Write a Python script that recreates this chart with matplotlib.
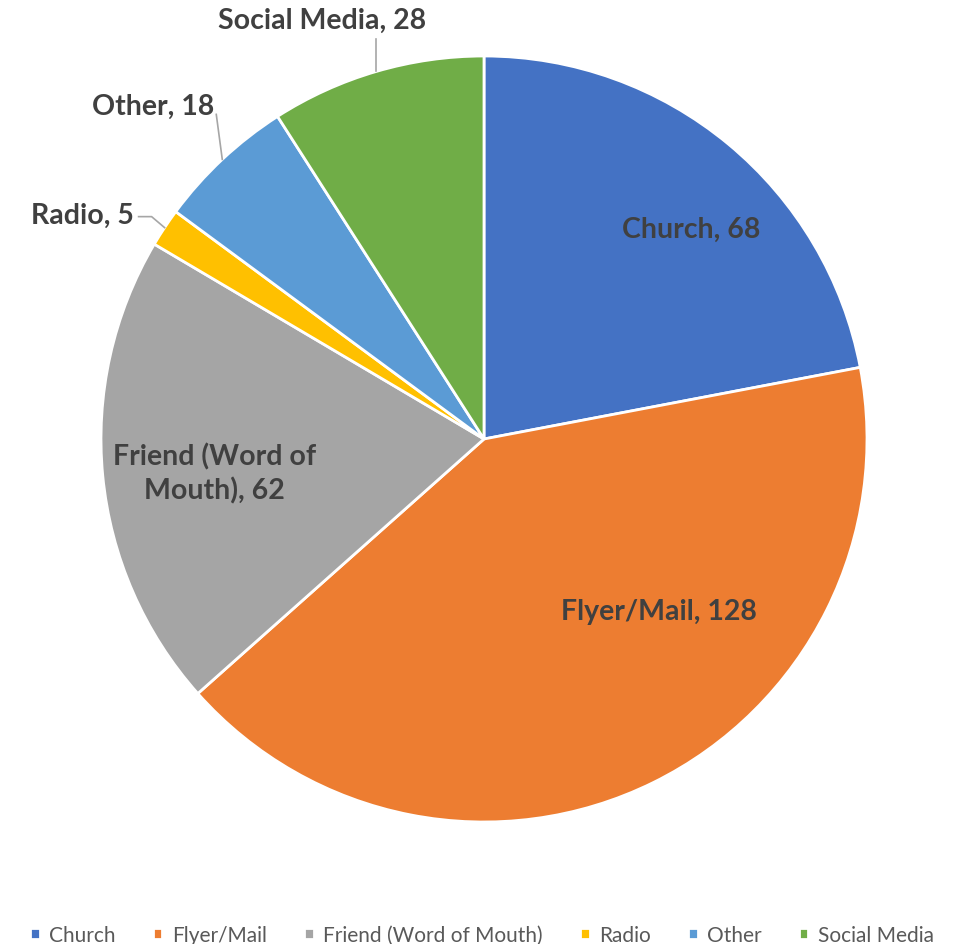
import numpy as np
import matplotlib.pyplot as plt

categories = ['Church', 'Flyer/Mail', 'Friend (Word of Mouth)', 'Radio', 'Other', 'Social Media']
counts = [68, 128, 62, 5, 18, 28]
colors = ['#4472C4', '#ED7D31', '#A5A5A5', '#FFC000', '#5B9BD5', '#70AD47']

# label layout: inside labels as (angle deg, radius fraction); outside labels get leader lines
inside_pos = {'Church': (45.5, 0.77), 'Flyer/Mail': (-44.5, 0.64), 'Friend (Word of Mouth)': (-172.8, 0.71)}
label_text = {'Friend (Word of Mouth)': 'Friend (Word of\nMouth), 62'}

W, H = 964, 945
cx, cy, R = 484, H - 440, 383

plt.rcParams['font.family'] = ['Lato', 'DejaVu Sans']
fig = plt.figure(figsize=(W / 100, H / 100), dpi=100)
ax = fig.add_axes([0, 0, 1, 1])

wedges, _ = ax.pie(counts, colors=colors, startangle=90, counterclock=False,
                   center=(cx, cy), radius=R, frame=True,
                   wedgeprops=dict(edgecolor='white', linewidth=2))
ax.set_xlim(0, W)
ax.set_ylim(0, H)
ax.set_aspect('equal')
ax.axis('off')

txt_kw = dict(fontsize=20.5, fontweight='bold', color='#404040')
line_kw = dict(color='#A6A6A6', lw=1.2)

for w, cat, n in zip(wedges, categories, counts):
    mid = np.deg2rad((w.theta1 + w.theta2) / 2)
    text = label_text.get(cat, f'{cat}, {n}')
    if cat in inside_pos:
        ang, f = inside_pos[cat]
        a = np.deg2rad(ang)
        ax.text(cx + f * R * np.cos(a), cy + f * R * np.sin(a), text,
                ha='center', va='center', multialignment='center', linespacing=1.3, **txt_kw)
        continue
    ex, ey = cx + R * np.cos(mid), cy + R * np.sin(mid)
    if cat == 'Social Media':
        ax.plot([ex, ex], [ey, ey + 32], **line_kw)
        ax.text(ex - 54, ey + 52, text, ha='center', va='center', **txt_kw)
    elif cat == 'Other':
        ax.plot([ex, ex - 6], [ey, ey + 45], **line_kw)
        ax.text(ex - 8, ey + 54, text, ha='right', va='center', **txt_kw)
    else:
        ax.plot([ex, ex - 13, ex - 26], [ey, ey + 11, ey + 11], **line_kw)
        ax.text(ex - 31, ey + 13, text, ha='right', va='center', **txt_kw)

fig.legend(wedges, categories, loc='lower center', bbox_to_anchor=(0.5, -0.021), ncol=6,
           frameon=False, fontsize=15, labelcolor='#595959',
           handlelength=0.45, handleheight=0.45, handletextpad=0.45, columnspacing=1.8)

fig.savefig('out.png', dpi=100)
